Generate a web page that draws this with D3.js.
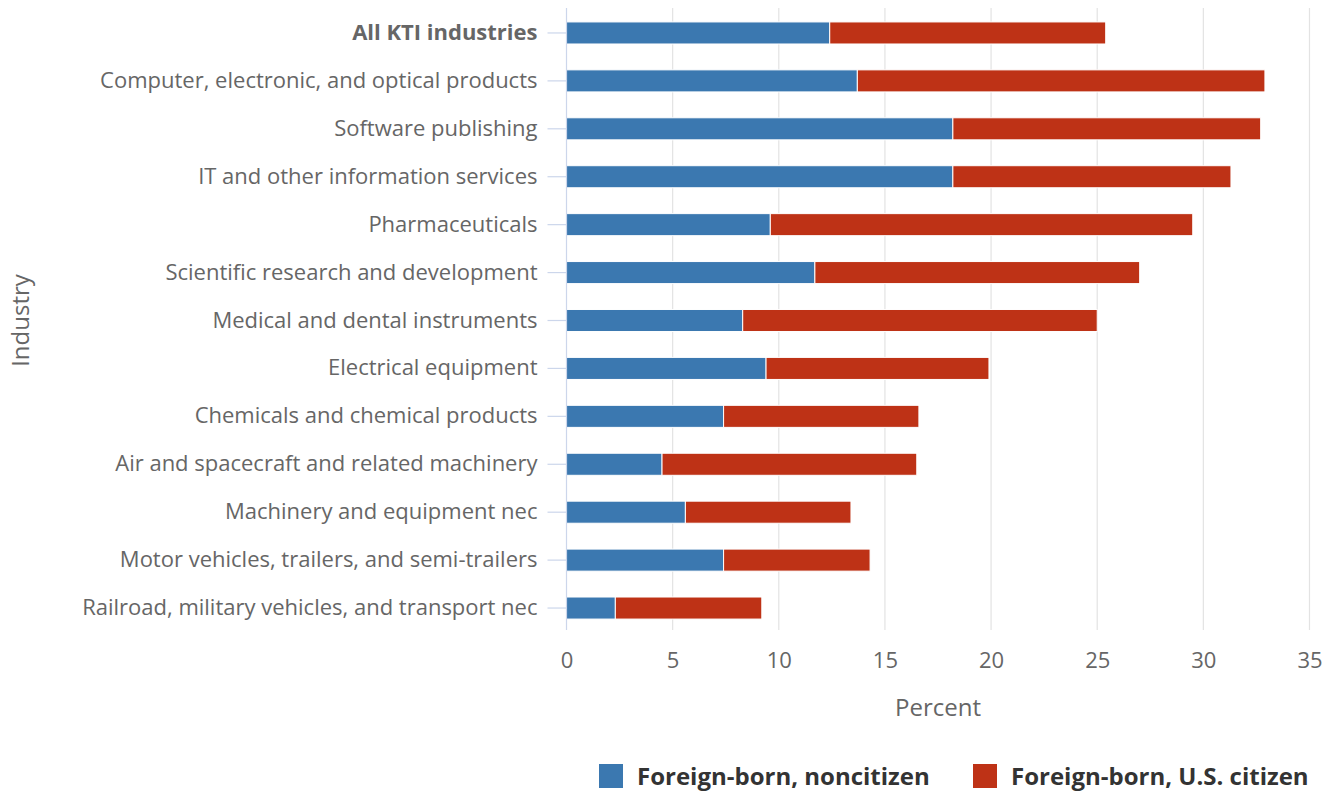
<!DOCTYPE html>
<html>
<head>
<meta charset="utf-8">
<script src="https://cdn.jsdelivr.net/npm/d3@7"></script>
<style>
  body { margin: 0; background: #fff; }
  svg { display: block; }
  svg text { font-family: "Open Sans", sans-serif; }
</style>
</head>
<body>
<svg id="chart" width="1333" height="794"></svg>
<script>
// industries, top to bottom
const industries = [
  "All KTI industries",
  "Computer, electronic, and optical products",
  "Software publishing",
  "IT and other information services",
  "Pharmaceuticals",
  "Scientific research and development",
  "Medical and dental instruments",
  "Electrical equipment",
  "Chemicals and chemical products",
  "Air and spacecraft and related machinery",
  "Machinery and equipment nec",
  "Motor vehicles, trailers, and semi-trailers",
  "Railroad, military vehicles, and transport nec"
];
// percent of workers
const noncitizen = [12.4, 13.7, 18.2, 18.2, 9.6, 11.7, 8.3, 9.4, 7.4, 4.5, 5.6, 7.4, 2.3];
const citizen    = [13.0, 19.2, 14.5, 13.1, 19.9, 15.3, 16.7, 10.5, 9.2, 12.0, 7.8, 6.9, 6.9];
const seriesNames = ["Foreign-born, noncitizen", "Foreign-born, U.S. citizen"];
const seriesColors = ["#3b78b0", "#be3216"];
const xTicks = [0, 5, 10, 15, 20, 25, 30, 35];

const svg = d3.select("#chart");
const margin = {left: 566.5, right: 23.5, top: 9, bottom: 162};
const W = 1333, H = 794;

const x = d3.scaleLinear().domain([0, 35]).range([margin.left, W - margin.right]);
const y = d3.scaleBand().domain(industries).range([margin.top, H - margin.bottom]).paddingInner(0.54).paddingOuter(0.27);

// grid
svg.append("g")
  .selectAll("line").data(xTicks.slice(1)).join("line")
  .attr("x1", d => x(d)).attr("x2", d => x(d))
  .attr("y1", margin.top - 1).attr("y2", H - margin.bottom - 2)
  .attr("stroke", "#e3e3e3").attr("stroke-width", 1.2);

// stacked bars
const rows = industries.map((name, i) => ({name, vals: [noncitizen[i], citizen[i]]}));
const g = svg.append("g");
rows.forEach(r => {
  let start = 0;
  r.vals.forEach((v, k) => {
    g.append("rect")
      .attr("x", x(start))
      .attr("y", y(r.name))
      .attr("width", x(start + v) - x(start))
      .attr("height", y.bandwidth())
      .attr("fill", seriesColors[k])
      .attr("stroke", "#fff").attr("stroke-width", 1);
    start += v;
  });
});

// y axis
const yAxis = svg.append("g")
  .attr("transform", `translate(${x(0)},0)`)
  .call(d3.axisLeft(y).tickSize(19).tickPadding(10));
yAxis.attr("font-family", null).attr("font-size", null);
yAxis.select(".domain").remove();
yAxis.selectAll(".tick line").attr("stroke", "#ccd6eb").attr("stroke-width", 1.2);
yAxis.selectAll(".tick text")
  .attr("fill", "#666").style("font-size", "22px")
  .style("font-weight", d => d === "All KTI industries" ? "bold" : "normal");
svg.append("line")
  .attr("x1", x(0)).attr("x2", x(0))
  .attr("y1", margin.top - 1).attr("y2", H - margin.bottom - 2)
  .attr("stroke", "#ccd6eb").attr("stroke-width", 1.2);

// x axis
const xAxis = svg.append("g")
  .attr("transform", `translate(0,${H - margin.bottom})`)
  .call(d3.axisBottom(x).tickValues(xTicks).tickSize(0).tickPadding(20));
xAxis.attr("font-family", null).attr("font-size", null);
xAxis.select(".domain").remove();
xAxis.selectAll(".tick text").attr("fill", "#666").style("font-size", "22px");

// axis titles
svg.append("text")
  .attr("x", (x(0) + x(35)) / 2).attr("y", 716)
  .attr("text-anchor", "middle").attr("fill", "#666")
  .style("font-size", "24px").text("Percent");
svg.append("text")
  .attr("transform", `translate(29,${(margin.top + H - margin.bottom) / 2}) rotate(-90)`)
  .attr("text-anchor", "middle").attr("fill", "#666")
  .style("font-size", "24px").text("Industry");

// legend
const legX = [599, 973];
seriesNames.forEach((s, k) => {
  svg.append("rect")
    .attr("x", legX[k]).attr("y", 764).attr("width", 24).attr("height", 24)
    .attr("fill", seriesColors[k]);
  svg.append("text")
    .attr("x", legX[k] + 38).attr("y", 785)
    .attr("fill", "#333").style("font-size", "24px").style("font-weight", "bold")
    .text(s);
});
</script>
</body>
</html>
